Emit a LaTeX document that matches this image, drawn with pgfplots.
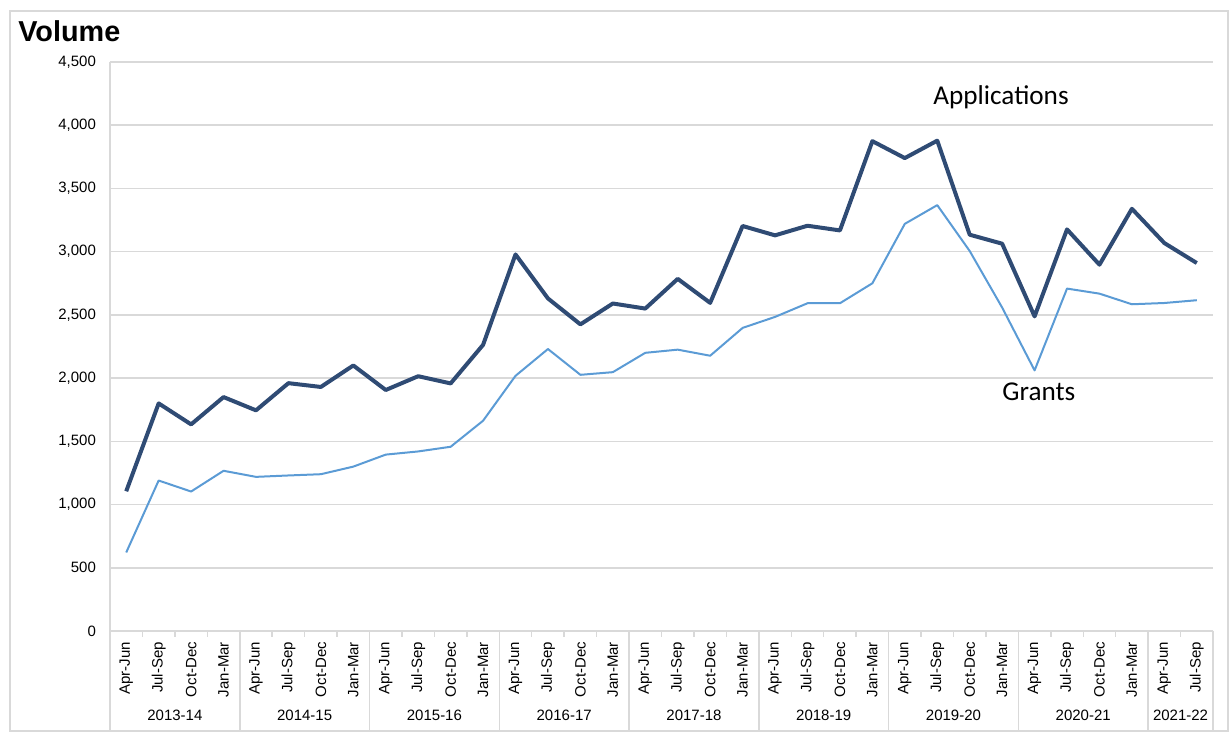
\documentclass[border=0pt]{standalone}
\usepackage{fontspec}
\setmainfont{Liberation Sans}
\newfontfamily\carlito{Carlito}
\usepackage{pgfplots}
\usepackage{pgfplotstable}
\pgfplotsset{compat=1.18}
\definecolor{appblue}{HTML}{2F4B74}
\definecolor{grantblue}{HTML}{5B9BD5}
\definecolor{gridgrey}{HTML}{D9D9D9}

% quarter index, applications, grants
\pgfplotstableread{
q app grant
1 1105 621
2 1800 1190
3 1634 1103
4 1850 1267
5 1745 1219
6 1960 1230
7 1930 1240
8 2100 1300
9 1906 1395
10 2015 1420
11 1958 1457
12 2263 1663
13 2978 2018
14 2630 2230
15 2425 2026
16 2590 2047
17 2550 2200
18 2785 2225
19 2595 2177
20 3203 2397
21 3129 2484
22 3205 2592
23 3168 2592
24 3874 2750
25 3740 3220
26 3878 3368
27 3134 3005
28 3063 2558
29 2488 2061
30 3176 2708
31 2897 2668
32 3339 2584
33 3068 2594
34 2910 2616
}\volumes

\begin{document}
\begin{tikzpicture}
\path (-55pt,-50.5pt) rectangle (559.5pt,315.5pt);
\draw[gridgrey, line width=0.75pt] (-50pt,-50pt) rectangle (559pt,310pt);
\begin{axis}[
  at={(0,0)}, anchor=south west,
  scale only axis,
  width=551.5pt, height=284.5pt,
  xmin=0.5, xmax=34.5,
  ymin=0, ymax=4500,
  ytick={0,500,...,4500},
  xtick={1,...,34},
  xticklabels={Apr-Jun,Jul-Sep,Oct-Dec,Jan-Mar,Apr-Jun,Jul-Sep,Oct-Dec,Jan-Mar,
    Apr-Jun,Jul-Sep,Oct-Dec,Jan-Mar,Apr-Jun,Jul-Sep,Oct-Dec,Jan-Mar,
    Apr-Jun,Jul-Sep,Oct-Dec,Jan-Mar,Apr-Jun,Jul-Sep,Oct-Dec,Jan-Mar,
    Apr-Jun,Jul-Sep,Oct-Dec,Jan-Mar,Apr-Jun,Jul-Sep,Oct-Dec,Jan-Mar,
    Apr-Jun,Jul-Sep},
  minor xtick={1.5,2.5,...,33.5},
  axis lines=left,
  axis line style={-, draw=gridgrey, line width=0.75pt},
  tick align=outside,
  major tick length=0pt,
  minor tick length=3pt,
  minor tick style={gridgrey, line width=0.75pt},
  ymajorgrids,
  grid style={gridgrey, line width=0.75pt},
  x tick label style={yshift=-2pt, rotate=90, anchor=east, font=\fontsize{7.5}{9}\selectfont},
  y tick label style={xshift=-3.5pt, font=\fontsize{7.5}{9}\selectfont},
  /pgf/number format/.cd, 1000 sep={,}, assume math mode=true,
  /pgfplots/.cd,
  clip=false,
]
\addplot[appblue, line width=2pt, line join=round, mark=none] table[x=q, y=app] {\volumes};
\addplot[grantblue, line width=1pt, line join=round, mark=none] table[x=q, y=grant] {\volumes};

% year separators
\draw[gridgrey, line width=0.75pt] (axis cs:0.5,0) -- ([yshift=-50pt]axis cs:0.5,0);
\draw[gridgrey, line width=0.75pt] (axis cs:4.5,0) -- ([yshift=-50pt]axis cs:4.5,0);
\draw[gridgrey, line width=0.75pt] (axis cs:8.5,0) -- ([yshift=-50pt]axis cs:8.5,0);
\draw[gridgrey, line width=0.75pt] (axis cs:12.5,0) -- ([yshift=-50pt]axis cs:12.5,0);
\draw[gridgrey, line width=0.75pt] (axis cs:16.5,0) -- ([yshift=-50pt]axis cs:16.5,0);
\draw[gridgrey, line width=0.75pt] (axis cs:20.5,0) -- ([yshift=-50pt]axis cs:20.5,0);
\draw[gridgrey, line width=0.75pt] (axis cs:24.5,0) -- ([yshift=-50pt]axis cs:24.5,0);
\draw[gridgrey, line width=0.75pt] (axis cs:28.5,0) -- ([yshift=-50pt]axis cs:28.5,0);
\draw[gridgrey, line width=0.75pt] (axis cs:32.5,0) -- ([yshift=-50pt]axis cs:32.5,0);
\draw[gridgrey, line width=0.75pt] (axis cs:34.5,0) -- ([yshift=-50pt]axis cs:34.5,0);

% year labels
\node[font=\fontsize{7.5}{9}\selectfont] at ([yshift=-42pt]axis cs:2.5,0) {2013-14};
\node[font=\fontsize{7.5}{9}\selectfont] at ([yshift=-42pt]axis cs:6.5,0) {2014-15};
\node[font=\fontsize{7.5}{9}\selectfont] at ([yshift=-42pt]axis cs:10.5,0) {2015-16};
\node[font=\fontsize{7.5}{9}\selectfont] at ([yshift=-42pt]axis cs:14.5,0) {2016-17};
\node[font=\fontsize{7.5}{9}\selectfont] at ([yshift=-42pt]axis cs:18.5,0) {2017-18};
\node[font=\fontsize{7.5}{9}\selectfont] at ([yshift=-42pt]axis cs:22.5,0) {2018-19};
\node[font=\fontsize{7.5}{9}\selectfont] at ([yshift=-42pt]axis cs:26.5,0) {2019-20};
\node[font=\fontsize{7.5}{9}\selectfont] at ([yshift=-42pt]axis cs:30.5,0) {2020-21};
\node[font=\fontsize{7.5}{9}\selectfont] at ([yshift=-42pt]axis cs:33.5,0) {2021-22};
\end{axis}

\node[anchor=base west, inner sep=0pt, font=\fontsize{14.4}{16}\selectfont\bfseries] at (-46pt,294.5pt) {Volume};
\node[anchor=base west, inner sep=0pt, font=\carlito\fontsize{13.6}{16}\selectfont] at (411.5pt,263pt) {Applications};
\node[anchor=base west, inner sep=0pt, font=\carlito\fontsize{13.6}{16}\selectfont] at (446pt,115.2pt) {Grants};
\end{tikzpicture}
\end{document}
